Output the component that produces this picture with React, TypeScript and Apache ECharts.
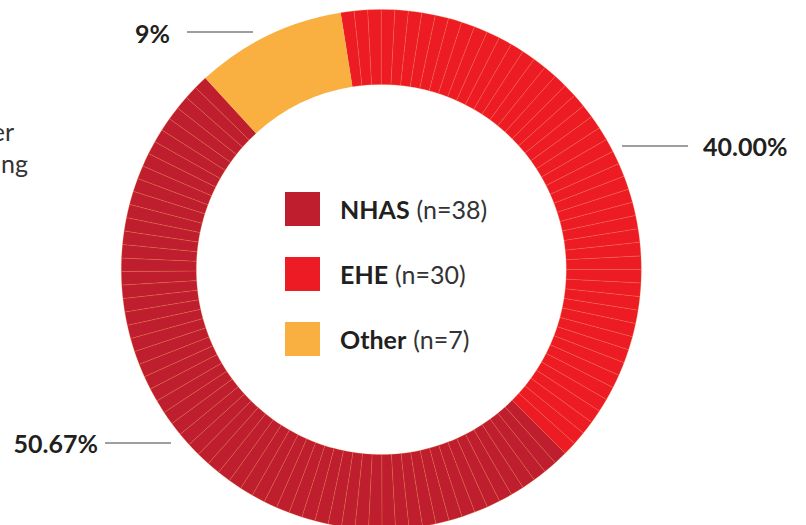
import React, { useEffect, useRef } from "react";
import * as echarts from "echarts";

// Data
const categories = ["NHAS", "EHE", "Other"];
const counts = [38, 30, 7];
const percentLabels = ["50.67%", "40.00%", "9%"];
const colors = ["#be1e2d", "#ed1c24", "#f9b041"];
// number of thin stripes each segment is drawn with
const stripeCounts = [61, 48, 1];
// clockwise drawing order starting near the top
const drawOrder = [1, 0, 2];
// cut-off side note texts at the left edge
const sideNote = ["er", "ng"];

const FONT = "Lato, 'Noto Sans', sans-serif";
const DARK = "#231f20";

export default function App() {
  const ref = useRef<HTMLDivElement>(null);
  useEffect(() => {
    if (!ref.current) return;
    const chart = echarts.init(ref.current, undefined, { renderer: "svg" });

    const pieData: any[] = [];
    drawOrder.forEach((i) => {
      const n = stripeCounts[i];
      for (let k = 0; k < n; k++) {
        pieData.push({
          name: categories[i],
          value: counts[i] / n,
          itemStyle: {
            color: colors[i],
            borderColor: n > 1 ? "rgba(244,128,60,0.5)" : colors[i],
            borderWidth: n > 1 ? 0.5 : 0,
          },
        });
      }
    });

    const lineStyle = { stroke: "#7f7f7f", lineWidth: 1.5 };
    const labelText = (text: string, x: number, y: number, align: string) => ({
      type: "text",
      x,
      y,
      style: {
        text,
        fill: DARK,
        font: `bold 25px ${FONT}`,
        textAlign: align,
        textVerticalAlign: "middle",
      },
    });

    chart.setOption({
      animation: false,
      backgroundColor: "#ffffff",
      legend: {
        orient: "vertical",
        left: 285,
        top: 192,
        padding: 0,
        icon: "rect",
        itemWidth: 35,
        itemHeight: 34,
        itemGap: 31,
        selectedMode: false,
        data: categories,
        itemStyle: { borderWidth: 0 },
        formatter: (name: string) => {
          const i = categories.indexOf(name);
          return `{b|${name}}{n|(n=${counts[i]})}`;
        },
        textStyle: {
          rich: {
            b: {
              fontFamily: FONT,
              fontWeight: "bold",
              fontSize: 25,
              color: DARK,
              padding: [0, 0, 0, 15],
            },
            n: {
              fontFamily: FONT,
              fontSize: 25,
              color: "#333333",
              padding: [0, 0, 0, 7],
            },
          },
        },
      },
      series: [
        {
          type: "pie",
          silent: true,
          center: [381.3, 269.5],
          radius: [185, 260],
          startAngle: 99,
          clockwise: true,
          label: { show: false },
          labelLine: { show: false },
          emphasis: { disabled: true },
          data: pieData,
        },
      ],
      graphic: [
        // 9%
        { type: "line", shape: { x1: 187, y1: 32, x2: 253, y2: 32 }, style: lineStyle },
        labelText(percentLabels[2], 170, 33, "right"),
        // 40.00%
        { type: "line", shape: { x1: 622, y1: 146, x2: 688, y2: 146 }, style: lineStyle },
        labelText(percentLabels[1], 703, 146, "left"),
        // 50.67%
        { type: "line", shape: { x1: 105, y1: 443, x2: 171, y2: 443 }, style: lineStyle },
        labelText(percentLabels[0], 98, 443, "right"),
        {
          type: "text",
          x: 14,
          y: 131,
          style: { text: sideNote[0], fill: "#333333", font: `25px ${FONT}`, textAlign: "right", textVerticalAlign: "middle" },
        },
        {
          type: "text",
          x: 28,
          y: 163,
          style: { text: sideNote[1], fill: "#333333", font: `25px ${FONT}`, textAlign: "right", textVerticalAlign: "middle" },
        },
      ],
    });
    return () => chart.dispose();
  }, []);
  return (
    <div
      ref={ref}
      style={{ position: "fixed", left: 0, top: 0, width: 806, height: 525 }}
    />
  );
}
